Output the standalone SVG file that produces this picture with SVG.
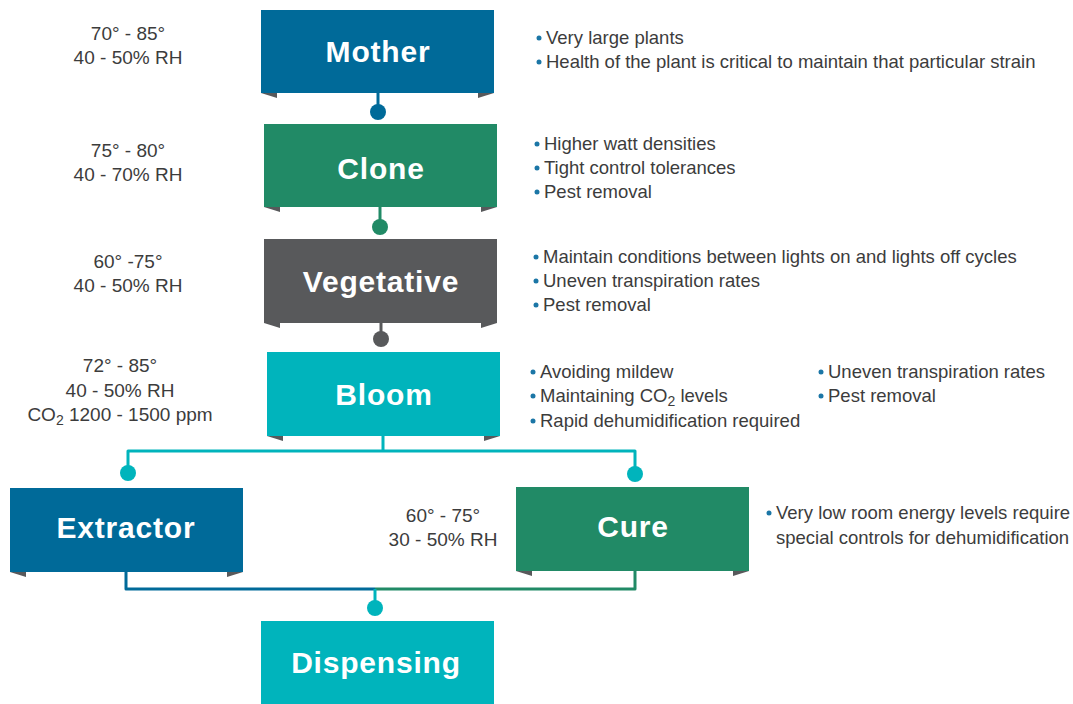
<svg xmlns="http://www.w3.org/2000/svg" width="1073" height="704" viewBox="0 0 1073 704">
<style>
.title{font-family:"Liberation Sans",Arial,sans-serif;font-weight:bold;font-size:30px;fill:#fff;text-anchor:middle;letter-spacing:0.8px}
.cond{font-family:"Liberation Sans",Arial,sans-serif;font-size:19px;fill:#3c3c3c;text-anchor:middle}
.bul{font-family:"Liberation Sans",Arial,sans-serif;font-size:18.5px;fill:#3c3c3c}
.dot{fill:#1b76a6}
.fold{fill:#58595b}
.blue{fill:#006a99}.green{fill:#218a66}.gray{fill:#58595b}.teal{fill:#00b4bc}
.ln{fill:none;stroke-width:3;stroke-linejoin:round}
</style>
<g id="connectors">
<path class="ln" stroke="#006a99" d="M378 93V112"/><circle cx="378" cy="112" r="8" fill="#006a99"/>
<path class="ln" stroke="#218a66" d="M380 207V227"/><circle cx="380" cy="227" r="8" fill="#218a66"/>
<path class="ln" stroke="#58595b" d="M381 323V339"/><circle cx="381" cy="339" r="8" fill="#58595b"/>
<path class="ln" stroke="#00b4bc" d="M383 436V451M128 473V451H635V474"/>
<circle cx="128" cy="473" r="8" fill="#00b4bc"/><circle cx="635" cy="474" r="8" fill="#00b4bc"/>
<path class="ln" stroke="#006a99" d="M126 572V589H375"/>
<path class="ln" stroke="#218a66" d="M635 571V589H375"/>
<path class="ln" stroke="#00b4bc" d="M375 589V608"/><circle cx="375" cy="608" r="8" fill="#00b4bc"/>
</g>
<g id="mother">
<rect class="blue" x="261" y="10" width="233" height="83"/>
<polygon class="fold" points="261,93 277,93 277,98"/><polygon class="fold" points="494,93 478,93 478,98"/>
<text class="title" x="378" y="62">Mother</text>
</g>
<g id="clone">
<rect class="green" x="264" y="124" width="233" height="83"/>
<polygon class="fold" points="264,207 280,207 280,212"/><polygon class="fold" points="497,207 481,207 481,212"/>
<text class="title" x="381" y="179">Clone</text>
</g>
<g id="vegetative">
<rect class="gray" x="264" y="239" width="233" height="84"/>
<polygon class="fold" points="264,323 280,323 280,328"/><polygon class="fold" points="497,323 481,323 481,328"/>
<text class="title" x="381" y="292">Vegetative</text>
</g>
<g id="bloom">
<rect class="teal" x="267" y="352" width="233" height="84"/>
<polygon class="fold" points="267,436 283,436 283,441"/><polygon class="fold" points="500,436 484,436 484,441"/>
<text class="title" x="384" y="405">Bloom</text>
</g>
<g id="extractor">
<rect class="blue" x="10" y="488" width="233" height="84"/>
<polygon class="fold" points="10,572 26,572 26,577"/><polygon class="fold" points="243,572 227,572 227,577"/>
<text class="title" x="126" y="538">Extractor</text>
</g>
<g id="cure">
<rect class="green" x="516" y="487" width="233" height="84"/>
<polygon class="fold" points="516,571 532,571 532,576"/><polygon class="fold" points="749,571 733,571 733,576"/>
<text class="title" x="633" y="537">Cure</text>
</g>
<g id="dispensing">
<rect class="teal" x="261" y="621" width="233" height="83"/>
<text class="title" x="376" y="673">Dispensing</text>
</g>
<g id="conditions">
<text class="cond" x="128" y="40">70° - 85°</text><text class="cond" x="128" y="64">40 - 50% RH</text>
<text class="cond" x="128" y="157">75° - 80°</text><text class="cond" x="128" y="181">40 - 70% RH</text>
<text class="cond" x="128" y="268">60° -75°</text><text class="cond" x="128" y="292">40 - 50% RH</text>
<text class="cond" x="120" y="372">72° - 85°</text><text class="cond" x="120" y="397">40 - 50% RH</text>
<text class="cond" x="120" y="421">CO<tspan font-size="14" dy="4">2</tspan><tspan dy="-4"> 1200 - 1500 ppm</tspan></text>
<text class="cond" x="443" y="522">60° - 75°</text><text class="cond" x="443" y="546">30 - 50% RH</text>
</g>
<g id="notes">
<circle class="dot" cx="539" cy="38" r="2.5"/><text class="bul" x="546" y="44">Very large plants</text>
<circle class="dot" cx="539" cy="62" r="2.5"/><text class="bul" x="546" y="68">Health of the plant is critical to maintain that particular strain</text>
<circle class="dot" cx="537" cy="144" r="2.5"/><text class="bul" x="544" y="150">Higher watt densities</text>
<circle class="dot" cx="537" cy="168" r="2.5"/><text class="bul" x="544" y="174">Tight control tolerances</text>
<circle class="dot" cx="537" cy="192" r="2.5"/><text class="bul" x="544" y="198">Pest removal</text>
<circle class="dot" cx="536" cy="257" r="2.5"/><text class="bul" x="543" y="263">Maintain conditions between lights on and lights off cycles</text>
<circle class="dot" cx="536" cy="281" r="2.5"/><text class="bul" x="543" y="287">Uneven transpiration rates</text>
<circle class="dot" cx="536" cy="305" r="2.5"/><text class="bul" x="543" y="311">Pest removal</text>
<circle class="dot" cx="533" cy="372" r="2.5"/><text class="bul" x="540" y="378">Avoiding mildew</text>
<circle class="dot" cx="533" cy="396" r="2.5"/><text class="bul" x="540" y="402">Maintaining CO<tspan font-size="14" dy="4">2</tspan><tspan dy="-4"> levels</tspan></text>
<circle class="dot" cx="533" cy="421" r="2.5"/><text class="bul" x="540" y="427">Rapid dehumidification required</text>
<circle class="dot" cx="821" cy="372" r="2.5"/><text class="bul" x="828" y="378">Uneven transpiration rates</text>
<circle class="dot" cx="821" cy="396" r="2.5"/><text class="bul" x="828" y="402">Pest removal</text>
<circle class="dot" cx="769" cy="513" r="2.5"/><text class="bul" x="776" y="519">Very low room energy levels require</text>
<text class="bul" x="776" y="544">special controls for dehumidification</text>
</g>
</svg>
